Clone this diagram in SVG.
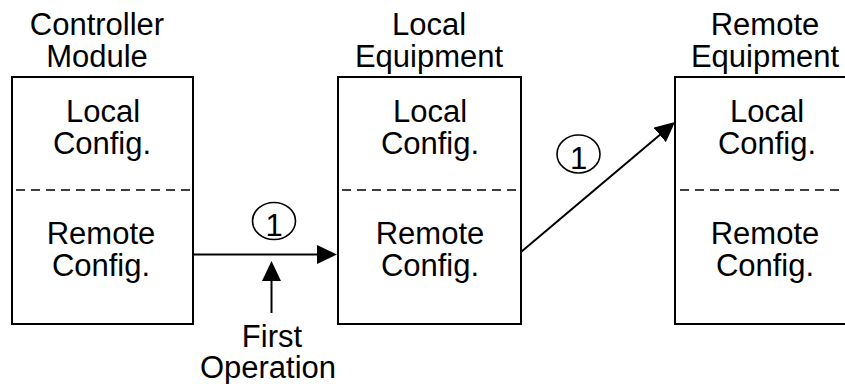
<svg xmlns="http://www.w3.org/2000/svg" width="845" height="384" viewBox="0 0 845 384">
<style>
text{font-family:"Liberation Sans",Arial,sans-serif;font-size:31px;fill:#000;text-anchor:middle}
.box{fill:#fff;stroke:#000;stroke-width:2}
.dash{stroke:#000;stroke-width:1.6;stroke-dasharray:9 6;fill:none}
.conn{stroke:#000;stroke-width:2;fill:none}
.badge{fill:none;stroke:#000;stroke-width:1.6}
</style>
<defs>
<marker id="ah" markerUnits="userSpaceOnUse" markerWidth="20" markerHeight="20" refX="12" refY="9.5" orient="auto">
<path d="M0,0 L20,9.5 L0,19 z" fill="#000"/>
</marker>
</defs>
<rect width="845" height="384" fill="#fff"/>
<g id="controller">
<text x="97" y="35">Controller</text>
<text x="97" y="67">Module</text>
<rect class="box" x="12" y="77" width="181" height="247"/>
<line class="dash" x1="16" y1="190" x2="193" y2="190"/>
<text x="103" y="122">Local</text>
<text x="102" y="154">Config.</text>
<text x="101" y="244">Remote</text>
<text x="101" y="276">Config.</text>
</g>
<g id="local">
<text x="429" y="35">Local</text>
<text x="429" y="67">Equipment</text>
<rect class="box" x="338" y="77" width="183" height="247"/>
<line class="dash" x1="342" y1="190" x2="521" y2="190"/>
<text x="430" y="122">Local</text>
<text x="430" y="154">Config.</text>
<text x="430" y="244">Remote</text>
<text x="430" y="276">Config.</text>
</g>
<g id="remote">
<text x="765" y="35">Remote</text>
<text x="765" y="67">Equipment</text>
<rect class="box" x="675" y="77" width="183" height="247"/>
<line class="dash" x1="680" y1="190" x2="858" y2="190"/>
<text x="767" y="122">Local</text>
<text x="767" y="154">Config.</text>
<text x="765" y="244">Remote</text>
<text x="765" y="276">Config.</text>
</g>
<g id="connectors">
<line class="conn" x1="193" y1="254.5" x2="329" y2="254.5" marker-end="url(#ah)"/>
<line class="conn" x1="271.5" y1="313" x2="271.5" y2="269" marker-end="url(#ah)"/>
<line class="conn" x1="521" y1="252" x2="668.9" y2="127.2" marker-end="url(#ah)"/>
</g>
<g id="badge1">
<ellipse class="badge" cx="274" cy="221" rx="21.5" ry="18.5"/>
<text x="274" y="236">1</text>
</g>
<g id="badge2">
<ellipse class="badge" cx="578.5" cy="154" rx="21.5" ry="19"/>
<text x="578.5" y="169">1</text>
</g>
<g id="first-op">
<text x="272" y="347">First</text>
<text x="268" y="378">Operation</text>
</g>
</svg>
